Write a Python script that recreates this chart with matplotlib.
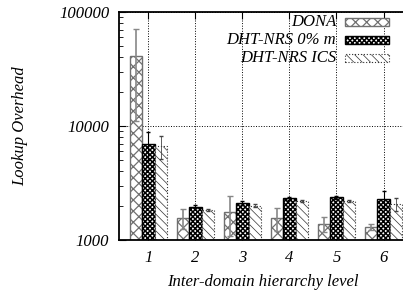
import numpy as np
import matplotlib
matplotlib.use("Agg")
import matplotlib.pyplot as plt
from matplotlib.patches import Rectangle
from matplotlib.ticker import LogLocator, NullFormatter, FixedLocator

levels = [1, 2, 3, 4, 5, 6]
dona = [41100, 1560, 1760, 1560, 1380, 1300]
dona_err = [30000, 310, 670, 350, 210, 80]
dht_m = [6950, 1950, 2110, 2330, 2380, 2290]
dht_m_err = [1900, 60, 70, 70, 70, 400]
dht_ics = [6680, 1830, 2000, 2200, 2200, 2070]
dht_ics_err = [1500, 30, 50, 50, 50, 260]
series_names = ["DONA", "DHT-NRS 0% m", "DHT-NRS ICS"]

plt.rcParams["font.family"] = ["Liberation Serif", "DejaVu Serif"]

W, H = 403, 295
fig = plt.figure(figsize=(W / 100, H / 100), dpi=100)
ax = fig.add_axes([119 / W, 1 - 240 / H, 1 - 119 / W + 0.01, 228 / H])

x = np.array(levels, dtype=float)
w = 0.26
ax.set_axisbelow(True)

# bar styles: face, edge, hatch, line width, line style, hatch line width
styles = [
    ("white", "#707070", "xxx", 1.0, "-", 0.9),
    ("white", "black", "xxxxxxx", 1.0, "-", 1.1),
    ("white", "#333333", "\\\\\\\\", 0.8, ":", 0.5),
]

def draw_bars(xpos, vals, st):
    plt.rcParams["hatch.linewidth"] = st[5]
    return ax.bar(xpos, vals, w, color=st[0], edgecolor=st[1], hatch=st[2],
                  linewidth=st[3], linestyle=st[4])

draw_bars(x - w, dona, styles[0])
ax.errorbar(x - w, dona, yerr=dona_err, fmt="none", ecolor="#888888",
            elinewidth=1.2, capsize=2)
draw_bars(x, dht_m, styles[1])
ax.errorbar(x, dht_m, yerr=dht_m_err, fmt="none", ecolor="black",
            elinewidth=0.8, capsize=1.5)
draw_bars(x + w, dht_ics, styles[2])
ax.errorbar(x + w, dht_ics, yerr=dht_ics_err, fmt="none", ecolor="#444444",
            elinewidth=0.6, capsize=1.5)

ax.set_yscale("log")
ax.set_ylim(1000, 100000)
ax.set_xlim(0.375, 6.5)

ax.set_xticks(levels)
ax.set_xticklabels([str(v) for v in levels], fontstyle="italic", fontsize=12)
ax.yaxis.set_major_locator(FixedLocator([1000, 10000, 100000]))
ax.set_yticklabels(["1000", "10000", "100000"], fontstyle="italic", fontsize=12)
ax.yaxis.set_minor_locator(LogLocator(base=10, subs=np.arange(2, 10)))
ax.yaxis.set_minor_formatter(NullFormatter())

ax.tick_params(axis="both", which="both", direction="in", top=True, right=False)
ax.tick_params(axis="y", which="major", length=5, pad=7)
ax.tick_params(axis="y", which="minor", length=3)
ax.tick_params(axis="x", which="major", length=5, pad=7)
ax.tick_params(axis="x", which="minor", bottom=False, top=False)

ax.grid(True, which="major", axis="both", color="black", linestyle=":", linewidth=0.7)

for s in ["left", "bottom", "top"]:
    ax.spines[s].set_linewidth(1.3)
ax.spines["right"].set_visible(False)

fig.text(20 / W, 1 - 126 / H, "Lookup Overhead", rotation=90, fontstyle="italic",
         fontsize=12, ha="center", va="center")
fig.text(263 / W, 1 - 282 / H, "Inter-domain hierarchy level", fontstyle="italic",
         fontsize=12, ha="center", va="center")

# legend drawn by hand: text right aligned, sample box to the right
for i, name in enumerate(series_names):
    yc = 22 + 18 * i
    fig.text(336 / W, 1 - yc / H, name, fontstyle="italic", fontsize=12,
             ha="right", va="center")
    fc, ec, hatch, lw, ls, hlw = styles[i]
    plt.rcParams["hatch.linewidth"] = hlw
    fig.add_artist(Rectangle((345 / W, 1 - (yc + 4) / H), 44 / W, 8 / H,
                             facecolor=fc, edgecolor=ec, hatch=hatch,
                             linewidth=lw, linestyle=ls,
                             transform=fig.transFigure))

fig.savefig("out.png", dpi=100)
